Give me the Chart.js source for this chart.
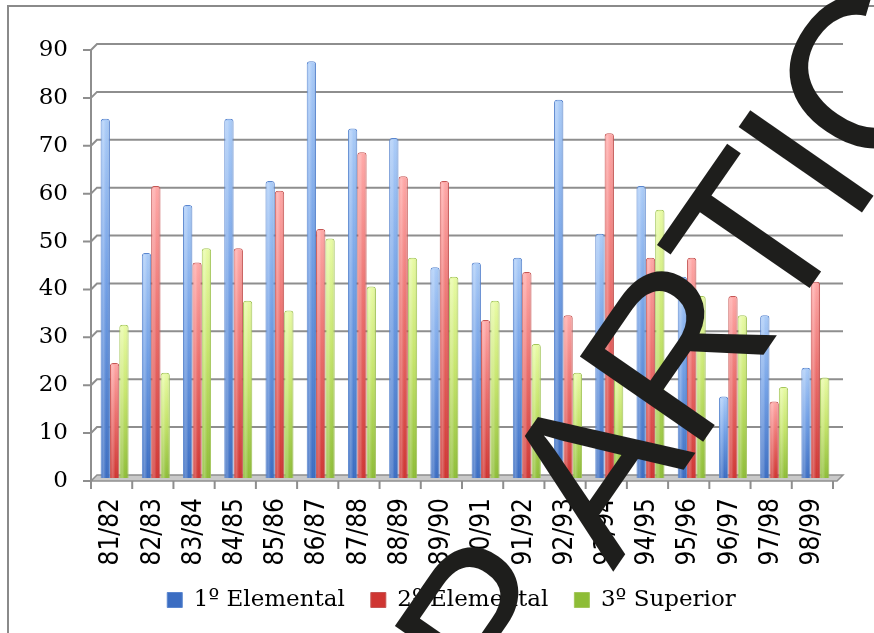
<!DOCTYPE html>
<html>
<head>
<meta charset="utf-8">
<title>Alumnos por curso</title>
<script src="https://cdn.jsdelivr.net/npm/chart.js@4.4.1/dist/chart.umd.min.js"></script>
<style>
  html, body { margin: 0; padding: 0; background: #ffffff; }
  #frame { width: 874px; height: 633px; }
</style>
</head>
<body>
<div id="frame"><canvas id="chart" width="874" height="633"></canvas></div>
<script>
// School years on the category axis
const seasons = ['81/82', '82/83', '83/84', '84/85', '85/86', '86/87', '87/88', '88/89', '89/90',
                 '90/91', '91/92', '92/93', '93/94', '94/95', '95/96', '96/97', '97/98', '98/99'];

// Pupils per grade and school year
const elementalFirst  = [75, 47, 57, 75, 62, 87, 73, 71, 44, 45, 46, 79, 51, 61, 42, 17, 34, 23];
const elementalSecond = [24, 61, 45, 48, 60, 52, 68, 63, 62, 33, 43, 34, 72, 46, 46, 38, 16, 41];
const superiorThird   = [32, 22, 48, 37, 35, 50, 40, 46, 42, 37, 28, 22, 23, 56, 38, 34, 19, 21];

// Value axis ticks
const yTickValues = [0, 10, 20, 30, 40, 50, 60, 70, 80, 90];

const seriesNames = ['1º Elemental', '2º Elemental', '3º Superior'];
const stampText = 'PARTICIPACIÓN';

// Half of the depth offset between the mid plane (bars) and the front / back planes
const DEPTH = 3;
const AXIS_GREY = '#8e8e8e';

const palette = [
  { light: '#abccf8', mid: '#72a0e6', dark: '#3b6dc2', edge: '#5a86cf' },
  { light: '#ffa8a7', mid: '#ec706e', dark: '#cf3532', edge: '#c55654' },
  { light: '#e8fba4', mid: '#c6e56c', dark: '#8ebd37', edge: '#a4c65b' }
];

// Vertical gradient for each bar, light at the top and darker at the base
function barFill(p) {
  return (c) => {
    const chart = c.chart;
    if (c.type !== 'data' || !chart.chartArea) return p.mid;
    const yScale = chart.scales.y;
    const top = yScale.getPixelForValue(c.raw);
    const base = yScale.getPixelForValue(0);
    const g = chart.ctx.createLinearGradient(0, top, 0, base);
    g.addColorStop(0, p.light);
    g.addColorStop(0.45, p.mid);
    g.addColorStop(1, p.dark);
    return g;
  };
}

// Outer frame, back wall grid, floor and front axis of the 3-D box
const depthFrame = {
  id: 'depthFrame',
  afterLayout(chart) {
    // give the tick labels the whole margin to draw in
    chart.scales.y.left = 0;
    chart.scales.x.bottom = chart.height;
  },
  beforeDraw(chart) {
    const ctx = chart.ctx;
    ctx.save();
    ctx.strokeStyle = '#8a8a8a';
    ctx.lineWidth = 2;
    ctx.strokeRect(8, 6, 900, 700);
    ctx.restore();
  },
  beforeDatasetsDraw(chart) {
    const { ctx, chartArea: a, scales: { y } } = chart;
    const fl = a.left - DEPTH, fr = a.right - DEPTH;   // front plane
    const bl = a.left + DEPTH, br = a.right + DEPTH;   // back plane
    const y0f = y.getPixelForValue(0) + DEPTH;
    const y0b = y.getPixelForValue(0) - DEPTH;
    ctx.save();
    ctx.lineCap = 'butt';
    // floor
    ctx.beginPath();
    ctx.moveTo(fl, y0f);
    ctx.lineTo(fr + 4, y0f);
    ctx.lineTo(br + 4, y0b);
    ctx.lineTo(bl, y0b);
    ctx.closePath();
    ctx.fillStyle = '#c9c9c9';
    ctx.fill();
    ctx.strokeStyle = AXIS_GREY;
    ctx.lineWidth = 1.5;
    ctx.stroke();
    // back wall grid lines with their slanted joints to the front axis
    ctx.lineWidth = 2;
    yTickValues.forEach(v => {
      const yb = y.getPixelForValue(v) - DEPTH;
      const yf = y.getPixelForValue(v) + DEPTH;
      ctx.beginPath();
      if (v > 0) {
        ctx.moveTo(fl, yf);
        ctx.lineTo(bl, yb);
        ctx.lineTo(br + 4, yb);
      }
      ctx.moveTo(fl - 8, yf);
      ctx.lineTo(fl, yf);
      ctx.stroke();
    });
    // front value axis
    ctx.beginPath();
    ctx.moveTo(fl, y.getPixelForValue(yTickValues[yTickValues.length - 1]) + DEPTH - 1);
    ctx.lineTo(fl, y0f);
    ctx.stroke();
    // category tick marks on the front edge
    const step = (a.right - a.left) / seasons.length;
    for (let i = 0; i <= seasons.length; i++) {
      const xi = fl + i * step;
      ctx.beginPath();
      ctx.moveTo(xi, y0f);
      ctx.lineTo(xi, y0f + 8);
      ctx.stroke();
    }
    ctx.restore();
  },
  afterDatasetsDraw(chart) {
    // soft cylinder shading across every bar
    const ctx = chart.ctx;
    ctx.save();
    chart.data.datasets.forEach((ds, i) => {
      chart.getDatasetMeta(i).data.forEach(bar => {
        const left = bar.x - bar.width / 2;
        const g = ctx.createLinearGradient(left, 0, left + bar.width, 0);
        g.addColorStop(0, 'rgba(255,255,255,0.05)');
        g.addColorStop(0.3, 'rgba(255,255,255,0.25)');
        g.addColorStop(0.6, 'rgba(255,255,255,0.0)');
        g.addColorStop(1, 'rgba(0,0,0,0.12)');
        ctx.fillStyle = g;
        ctx.fillRect(left + 1, bar.y + 2, bar.width - 2, bar.base - bar.y - 2);
      });
    });
    ctx.restore();
  }
};

// Large black stamp lettering across the chart; the initial is set apart
// from the rest of the word
const stamp = {
  id: 'stamp',
  afterDraw(chart) {
    const ctx = chart.ctx;
    const angle = -55.3 * Math.PI / 180;
    const put = (text, x, y) => {
      ctx.save();
      ctx.translate(x, y);
      ctx.rotate(angle);
      ctx.fillText(text, 0, 0);
      ctx.restore();
    };
    ctx.save();
    ctx.font = '218px "Liberation Sans", Arial, sans-serif';
    if ('letterSpacing' in ctx) ctx.letterSpacing = '-5px';
    ctx.textBaseline = 'alphabetic';
    ctx.textAlign = 'left';
    ctx.fillStyle = '#1e1e1c';
    put(stampText.slice(0, 1), 508, 726);
    put(stampText.slice(1), 613, 572);
    ctx.restore();
  }
};

const seriesValues = [elementalFirst, elementalSecond, superiorThird];

new Chart(document.getElementById('chart'), {
  type: 'bar',
  data: {
    labels: seasons,
    datasets: seriesValues.map((values, i) => ({
      label: seriesNames[i],
      data: values,
      backgroundColor: barFill(palette[i]),
      borderColor: palette[i].edge,
      borderWidth: 1,
      borderSkipped: 'bottom',
      borderRadius: { topLeft: 3, topRight: 3, bottomLeft: 0, bottomRight: 0 },
      categoryPercentage: 0.68,
      barPercentage: 1.0
    }))
  },
  options: {
    responsive: false,
    animation: false,
    devicePixelRatio: 1,
    layout: { padding: { top: 47, left: 67, right: 38, bottom: 11.5 } },
    scales: {
      x: {
        grid: { display: false, drawTicks: false },
        border: { display: false },
        ticks: {
          autoSkip: false,
          minRotation: 90,
          maxRotation: 90,
          padding: 20,
          labelOffset: -DEPTH,
          color: '#000000',
          font: { family: '"Liberation Sans Narrow", "Arial Narrow", "DejaVu Sans Condensed", sans-serif', size: 26 }
        },
        afterFit(scale) { scale.height = 84.5; }
      },
      y: {
        min: 0,
        max: 90,
        grid: { display: false, drawTicks: false },
        border: { display: false },
        afterBuildTicks(scale) { scale.ticks = yTickValues.map(v => ({ value: v })); },
        ticks: {
          padding: 26,
          labelOffset: DEPTH,
          color: '#000000',
          font: { family: '"DejaVu Serif", serif', size: 23 }
        },
        afterFit(scale) { scale.width = 27; }
      }
    },
    plugins: {
      legend: {
        position: 'bottom',
        labels: {
          boxWidth: 15,
          boxHeight: 15,
          padding: 26,
          color: '#000000',
          font: { family: '"DejaVu Serif", serif', size: 23 }
        }
      },
      tooltip: { enabled: false }
    }
  },
  plugins: [depthFrame, stamp]
});
</script>
</body>
</html>
